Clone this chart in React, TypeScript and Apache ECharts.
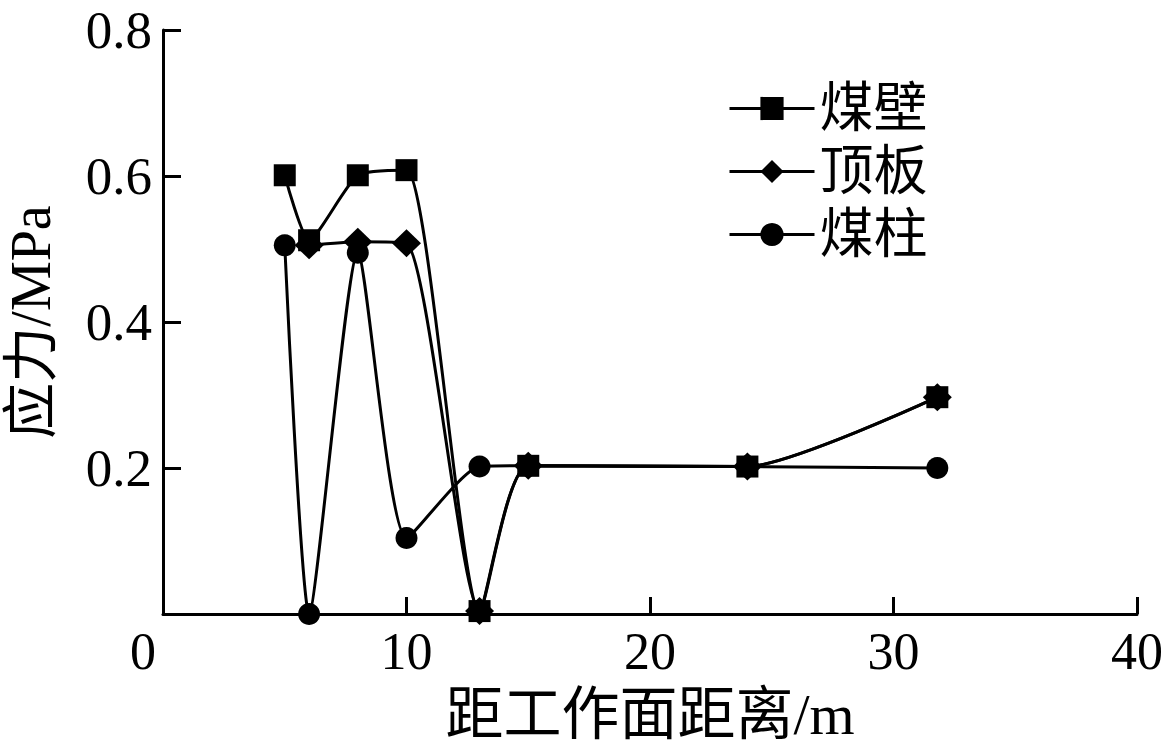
import React, { useEffect, useRef } from "react";
import * as echarts from "echarts";

const xTicks = [0, 10, 20, 30, 40];
const yTicks = [0.2, 0.4, 0.6, 0.8];
const seriesNames = ["煤壁", "顶板", "煤柱"];
const meibiX = [5, 6, 8, 10, 13, 15, 24, 31.8];
const meibiY = [0.601, 0.512, 0.601, 0.608, 0.004, 0.203, 0.202, 0.297];
const dingbanX = [6, 8, 10, 13, 15, 24, 31.8];
const dingbanY = [0.505, 0.51, 0.508, 0.004, 0.203, 0.202, 0.297];
const meizhuX = [5, 6, 8, 10, 13, 15, 24, 31.8];
const meizhuY = [0.505, 0.0, 0.495, 0.104, 0.202, 0.203, 0.202, 0.2];

const SERIF = "'Liberation Serif', 'Times New Roman', 'Noto Sans CJK SC', serif";

function pairs(xs: number[], ys: number[]) {
  return xs.map((x, i) => [x, ys[i]]);
}

export default function App() {
  const ref = useRef<HTMLDivElement>(null);
  useEffect(() => {
    if (!ref.current) return;
    const chart = echarts.init(ref.current, undefined, { renderer: "svg" });
    const mk = (name: string, data: number[][], symbol: string, size: any) => ({
      name,
      type: "line",
      data,
      smooth: 0.2,
      symbol,
      symbolSize: size,
      showSymbol: true,
      lineStyle: { color: "#000", width: 3 },
      itemStyle: { color: "#000" },
      z: 3,
    });
    chart.setOption({
      animation: false,
      backgroundColor: "#fff",
      grid: {
        left: 163,
        right: 27,
        top: 30,
        bottom: 141,
        containLabel: false,
        outerBoundsMode: "none",
      },
      legend: {
        orient: "vertical",
        left: 723,
        top: 75,
        itemWidth: 85,
        itemHeight: 29,
        itemGap: 6,
        data: seriesNames,
        lineStyle: { width: 3, color: "#000" },
        textStyle: { fontFamily: SERIF, fontSize: 54, color: "#000", lineHeight: 57 },
      },
      xAxis: {
        type: "value",
        min: xTicks[0],
        max: xTicks[xTicks.length - 1],
        interval: 10,
        name: "距工作面距离/m",
        nameLocation: "middle",
        nameGap: 71,
        nameTextStyle: { fontFamily: SERIF, fontSize: 58, color: "#000" },
        axisLine: { lineStyle: { color: "#000", width: 3 } },
        axisTick: { inside: true, length: 17, lineStyle: { color: "#000", width: 3 } },
        axisLabel: {
          margin: 11,
          fontFamily: SERIF,
          fontSize: 52,
          color: "#000",
          formatter: (v: number) => (v === 0 ? "{z|0}" : String(v)),
          rich: {
            z: { fontFamily: SERIF, fontSize: 52, color: "#000", padding: [0, 40, 0, 0] },
          },
        },
        splitLine: { show: false },
      },
      yAxis: {
        type: "value",
        min: 0,
        max: yTicks[yTicks.length - 1],
        interval: 0.2,
        name: "应力/MPa",
        nameLocation: "middle",
        nameGap: 104,
        nameTextStyle: { fontFamily: SERIF, fontSize: 56, color: "#000" },
        axisLine: { show: true, lineStyle: { color: "#000", width: 3 } },
        axisTick: { show: true, inside: true, length: 18, lineStyle: { color: "#000", width: 3 } },
        axisLabel: {
          margin: 11,
          fontFamily: SERIF,
          fontSize: 53,
          color: "#000",
          showMinLabel: false,
          formatter: (v: number) => v.toFixed(1),
        },
        splitLine: { show: false },
      },
      series: [
        mk(seriesNames[0], pairs(meibiX, meibiY), "rect", 22),
        mk(seriesNames[1], pairs(dingbanX, dingbanY), "diamond", [29, 28]),
        mk(seriesNames[2], pairs(meizhuX, meizhuY), "circle", 22),
      ],
    });
    return () => chart.dispose();
  }, []);
  return (
    <div
      ref={ref}
      style={{ position: "fixed", left: 0, top: 0, width: 1164, height: 755, background: "#fff" }}
    />
  );
}
